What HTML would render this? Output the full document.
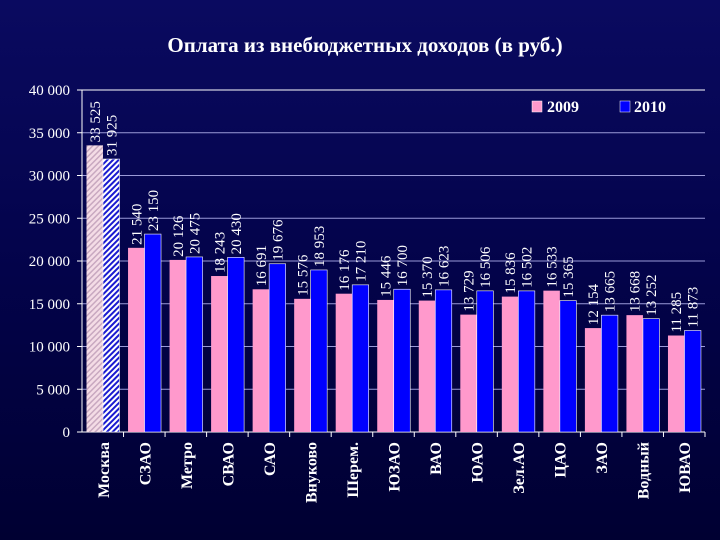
<!DOCTYPE html>
<html><head><meta charset="utf-8"><style>
html,body{margin:0;padding:0;width:720px;height:540px;overflow:hidden}
body{background:linear-gradient(#0a0a60,#03034a 50%,#000032);font-family:"Liberation Serif",serif}
</style></head><body>
<svg id="c" width="720" height="540" xmlns="http://www.w3.org/2000/svg" font-family="Liberation Serif, serif">
<defs>
<pattern id="hp" width="4" height="4" patternUnits="userSpaceOnUse" patternTransform="rotate(45)"><rect width="4" height="4" fill="#f4dce6"/><rect width="1.5" height="4" fill="#c8a8c0"/></pattern>
<pattern id="hb" width="4" height="4" patternUnits="userSpaceOnUse" patternTransform="rotate(45)"><rect width="4" height="4" fill="#ffffff"/><rect width="2" height="4" fill="#1a1ad0"/></pattern>
</defs>
<text x="365" y="52" text-anchor="middle" fill="#fff" font-size="21" font-weight="bold">Оплата из внебюджетных доходов (в руб.)</text>
<g id="grid"></g><g id="bars"></g><g id="labels"></g>
<g>
<rect x="532" y="101" width="10" height="11" fill="#ff99cc" stroke="#fff" stroke-width="0.5"/>
<text x="547" y="112" fill="#fff" font-size="16" font-weight="bold">2009</text>
<rect x="620" y="101" width="10" height="11" fill="#0000ff" stroke="#fff" stroke-width="0.5"/>
<text x="634" y="112" fill="#fff" font-size="16" font-weight="bold">2010</text>
</g>
</svg>
<script>
const categories=["Москва","СЗАО","Метро","СВАО","САО","Внуково","Шерем.","ЮЗАО","ВАО","ЮАО","Зел.АО","ЦАО","ЗАО","Водный","ЮВАО"];
const values2009=[33525,21540,20126,18243,16691,15576,16176,15446,15370,13729,15836,16533,12154,13668,11285];
const values2010=[31925,23150,20475,20430,19676,18953,17210,16700,16623,16506,16502,15365,13665,13252,11873];
const yTicks=[0,5000,10000,15000,20000,25000,30000,35000,40000];
const NS="http://www.w3.org/2000/svg";
const x0=82,x1=705,y0=432,y1=90,ymax=40000;
const cw=(x1-x0)/categories.length;
const Y=v=>y0-(v/ymax)*(y0-y1);
const X=i=>x0+i*cw;
function mk(t,a,p){const e=document.createElementNS(NS,t);for(const k in a)e.setAttribute(k,a[k]);p.appendChild(e);return e;}
const fmt=v=>{const s=String(v);return s.length>3?s.slice(0,-3)+" "+s.slice(-3):s;};
const g=document.getElementById('grid'),b=document.getElementById('bars'),l=document.getElementById('labels');
yTicks.forEach(t=>{
 if(t>0){const gl=mk('line',{x1:x0,x2:x1,y1:Y(t),y2:Y(t),stroke:t==ymax?'#fff':'#9a9ad8','stroke-width':1},g);
 
 }
 const tl=mk('text',{x:x0-12,y:Y(t)+5,'text-anchor':'end',fill:'#fff','font-size':15},g);
 tl.textContent=fmt(t);
 
 
 mk('line',{x1:x0-5,x2:x0,y1:Y(t),y2:Y(t),stroke:'#fff'},g);
});
mk('line',{x1:x0,x2:x0,y1:y1,y2:y0,stroke:'#fff'},g);
mk('line',{x1:x0,x2:x1,y1:y0,y2:y0,stroke:'#fff'},g);
categories.forEach((c,i)=>{
 const bx=X(i);
 mk('line',{x1:bx+cw,x2:bx+cw,y1:y0,y2:y0+5,stroke:'#fff'},g);
 const bw=16.5;
 const p=mk('rect',{x:bx+4.5,y:Y(values2009[i]),width:bw,height:y0-Y(values2009[i]),fill:i==0?'url(#hp)':'#ff99cc'},b);
 
 
 const q=mk('rect',{x:bx+4.5+bw,y:Y(values2010[i]),width:bw,height:y0-Y(values2010[i]),fill:i==0?'url(#hb)':'#0000ff',stroke:'#fff','stroke-width':0.6},b);
 
 
 [[values2009[i],bx+4.5+bw/2],[values2010[i],bx+4.5+bw*1.5]].forEach(([v,cx])=>{
  const t=mk('text',{x:0,y:0,fill:'#fff','font-size':15,transform:`translate(${cx+5},${Y(v)-3}) rotate(-90)`},l);
  t.textContent=fmt(v);
  
  
 });
 const ct=mk('text',{x:0,y:0,fill:'#fff','font-size':16,'font-weight':'bold','text-anchor':'end',transform:`translate(${bx+cw/2+6},${y0+10}) rotate(-90)`},l);
 ct.textContent=c;
 
 
});
</script>
</body></html>
